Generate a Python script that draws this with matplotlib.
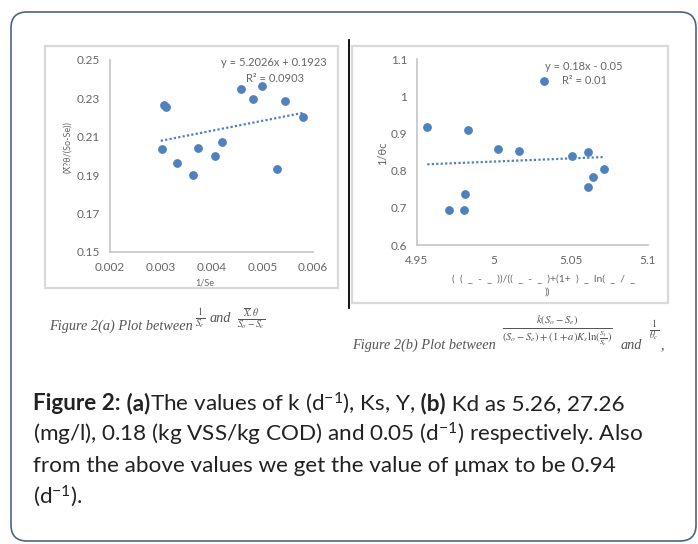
import numpy as np
import matplotlib
matplotlib.use("Agg")
import matplotlib.pyplot as plt
from matplotlib.patches import FancyBboxPatch, Rectangle

# data read off the reference
# Figure 2(a): 1/Se vs X.theta/(So-Se)
x_a = [0.00306, 0.00311, 0.00302, 0.00332, 0.00363, 0.00374, 0.00407,
       0.00420, 0.00458, 0.00481, 0.00499, 0.00545, 0.00530, 0.00580]
y_a = [0.2265, 0.2257, 0.2036, 0.1966, 0.1900, 0.2043, 0.2000,
       0.2074, 0.2347, 0.2298, 0.2364, 0.2284, 0.1930, 0.2204]
fit_a = (5.2026, 0.1923)
fit_a_range = (0.0030, 0.0058)
xticks_a = [0.002, 0.003, 0.004, 0.005, 0.006]
yticks_a = [0.15, 0.17, 0.19, 0.21, 0.23, 0.25]

# Figure 2(b)
x_b = [4.9567, 4.9828, 4.9706, 4.9805, 4.9811, 5.0028, 5.0163,
       5.0326, 5.0504, 5.0609, 5.0609, 5.0646, 5.0715]
y_b = [0.917, 0.910, 0.695, 0.695, 0.737, 0.859, 0.854,
       1.040, 0.840, 0.850, 0.757, 0.784, 0.804]
fit_b = (0.17, -0.0257)
fit_b_range = (4.9567, 5.0715)
xticks_b = [4.95, 5.0, 5.05, 5.1]
xlabels_b = ['4.95', '5', '5.05', '5.1']
yticks_b = [0.6, 0.7, 0.8, 0.9, 1.0, 1.1]
ylabels_b = ['0.6', '0.7', '0.8', '0.9', '1', '1.1']

W, H = 698, 544
blue = '#4f81bd'
gray_txt = '#666666'
tick_font = 'Lato'

plt.rcParams['mathtext.fontset'] = 'custom'
plt.rcParams['mathtext.rm'] = 'Lato'
plt.rcParams['mathtext.bf'] = 'Lato:bold'
plt.rcParams['mathtext.it'] = 'Lato:italic'

fig = plt.figure(figsize=(W / 100, H / 100), dpi=100)

# background axes in pixel units for frames and captions
bg = fig.add_axes([0, 0, 1, 1])
bg.set_xlim(0, W)
bg.set_ylim(H, 0)
bg.axis('off')

bg.add_patch(FancyBboxPatch((11, 12), 685, 529,
                            boxstyle='round,pad=0,rounding_size=16',
                            fill=False, ec='#4a6585', lw=1.2))
bg.add_patch(Rectangle((45, 46), 293, 242, fill=False, ec='#d9d9d9', lw=1.6))
bg.add_patch(Rectangle((352, 46), 316, 257, fill=False, ec='#d9d9d9', lw=1.6))
bg.plot([349, 349], [40, 308], color='black', lw=1.3)


def pax(x0, x1, ytop, ybot):
    return fig.add_axes([x0 / W, 1 - ybot / H, (x1 - x0) / W, (ybot - ytop) / H])


def style(ax):
    for s in ['top', 'right']:
        ax.spines[s].set_visible(False)
    for s in ['left', 'bottom']:
        ax.spines[s].set_color('#c8c8c8')
        ax.spines[s].set_linewidth(1.3)
    ax.tick_params(length=0, labelsize=8.5, labelcolor=gray_txt, pad=7)
    for lab in ax.get_xticklabels() + ax.get_yticklabels():
        lab.set_fontfamily(tick_font)
    ax.set_facecolor('none')


# ---- left chart
ax1 = pax(110, 313, 60, 252)
ax1.scatter(x_a, y_a, s=28, color=blue, zorder=3)
xs = np.array(fit_a_range)
ax1.plot(xs, fit_a[0] * xs + fit_a[1], ls=(0, (1, 1)), color=blue, lw=1.6)
ax1.set_xlim(0.002, 0.006)
ax1.set_ylim(0.15, 0.25)
ax1.set_xticks(xticks_a)
ax1.set_yticks(yticks_a)
ax1.set_xticklabels([f'{v:g}' for v in xticks_a])
ax1.set_yticklabels([f'{v:.2f}' for v in yticks_a])
style(ax1)
bg.text(274, 63, 'y = 5.2026x + 0.1923', ha='center', va='center',
        fontsize=8, color=gray_txt, family=tick_font)
bg.text(275, 78, 'R² = 0.0903', ha='center', va='center',
        fontsize=8, color=gray_txt, family=tick_font)
bg.text(205, 283, '1/Se', ha='center', va='center',
        fontsize=6.5, color=gray_txt, family=tick_font)
bg.text(68, 147, '(X̄?θ/(So-Se))', ha='center', va='center', rotation=90,
        fontsize=6.5, color=gray_txt, family=tick_font)

# ---- right chart
ax2 = pax(417, 648, 59, 245)
ax2.scatter(x_b, y_b, s=28, color=blue, zorder=3)
xs = np.array(fit_b_range)
ax2.plot(xs, fit_b[0] * xs + fit_b[1], ls=(0, (1, 1)), color=blue, lw=1.6)
ax2.set_xlim(4.95, 5.1)
ax2.set_ylim(0.6, 1.1)
ax2.set_xticks(xticks_b)
ax2.set_yticks(yticks_b)
ax2.set_xticklabels(xlabels_b)
ax2.set_yticklabels(ylabels_b)
style(ax2)
bg.text(584, 66, 'y = 0.18x - 0.05', ha='center', va='center',
        fontsize=8, color=gray_txt, family=tick_font)
bg.text(584, 81, 'R² = 0.01', ha='center', va='center',
        fontsize=8, color=gray_txt, family=tick_font)
bg.text(544, 279, '(  (  _  -  _  ))/((  _  -  _  )+(1+  )  _  ln(  _  /  _',
        ha='center', va='center', fontsize=7.5, color=gray_txt, family=tick_font,
        clip_on=False)
bg.text(547, 292, '))', ha='center', va='center', fontsize=7.5,
        color=gray_txt, family=tick_font)
bg.text(383, 153, '1/θc', ha='center', va='center', rotation=90,
        fontsize=8, color=gray_txt, family=tick_font)

# ---- figure captions under the charts
cap = dict(color='#555555', family='Liberation Serif', style='italic',
           math_fontfamily='stix')
bg.text(49, 330, 'Figure 2(a) Plot between', ha='left', va='baseline',
        fontsize=10.3, **cap)
bg.text(200, 318, r'$\frac{1}{S_e}$', ha='center', va='center', fontsize=10, **cap)
bg.text(210, 322, 'and', ha='left', va='baseline', fontsize=10.3, **cap)
bg.text(251, 319, r'$\frac{\overline{X}.\theta}{S_o-S_e}$', ha='center',
        va='center', fontsize=10, **cap)

bg.text(352, 349, 'Figure 2(b) Plot between', ha='left', va='baseline',
        fontsize=10.3, **cap)
bg.text(557, 331, r'$\frac{k(S_o-S_e)}{(S_o-S_e)+(1+a)K_s\ln(\frac{S_1}{S_e})}$',
        ha='center', va='center', fontsize=11, **cap)
bg.text(621, 349, 'and', ha='left', va='baseline', fontsize=10.3, **cap)
bg.text(654, 330, r'$\frac{1}{\theta_c}$', ha='center', va='center',
        fontsize=10, **cap)
bg.text(661, 349, ',', ha='left', va='baseline', fontsize=10.3, **cap)

# ---- body text, bold and regular runs laid out one after another
sup = r'$^{\mathrm{-1}}$'
body = [
    [('Figure 2:', 'bold'), (' (a)', 'bold'),
     ('The values of k (d' + sup + '), Ks, Y,', 'normal'), (' (b)', 'bold'),
     (' Kd as 5.26, 27.26', 'normal')],
    [('(mg/l), 0.18 (kg VSS/kg COD) and 0.05 (d' + sup + ') respectively. Also',
      'normal')],
    [('from the above values we get the value of μmax to be 0.94', 'normal')],
    [('(d' + sup + ').', 'normal')],
]
renderer = fig.canvas.get_renderer()
for i, runs in enumerate(body):
    x = 33
    for txt, wt in runs:
        t = bg.text(x, 410 + i * 31, txt, ha='left', va='baseline',
                    fontsize=16.2, weight=wt, color='#222222', family='Lato',
                    math_fontfamily='custom')
        x += t.get_window_extent(renderer).width

fig.savefig('out.png', dpi=100)
